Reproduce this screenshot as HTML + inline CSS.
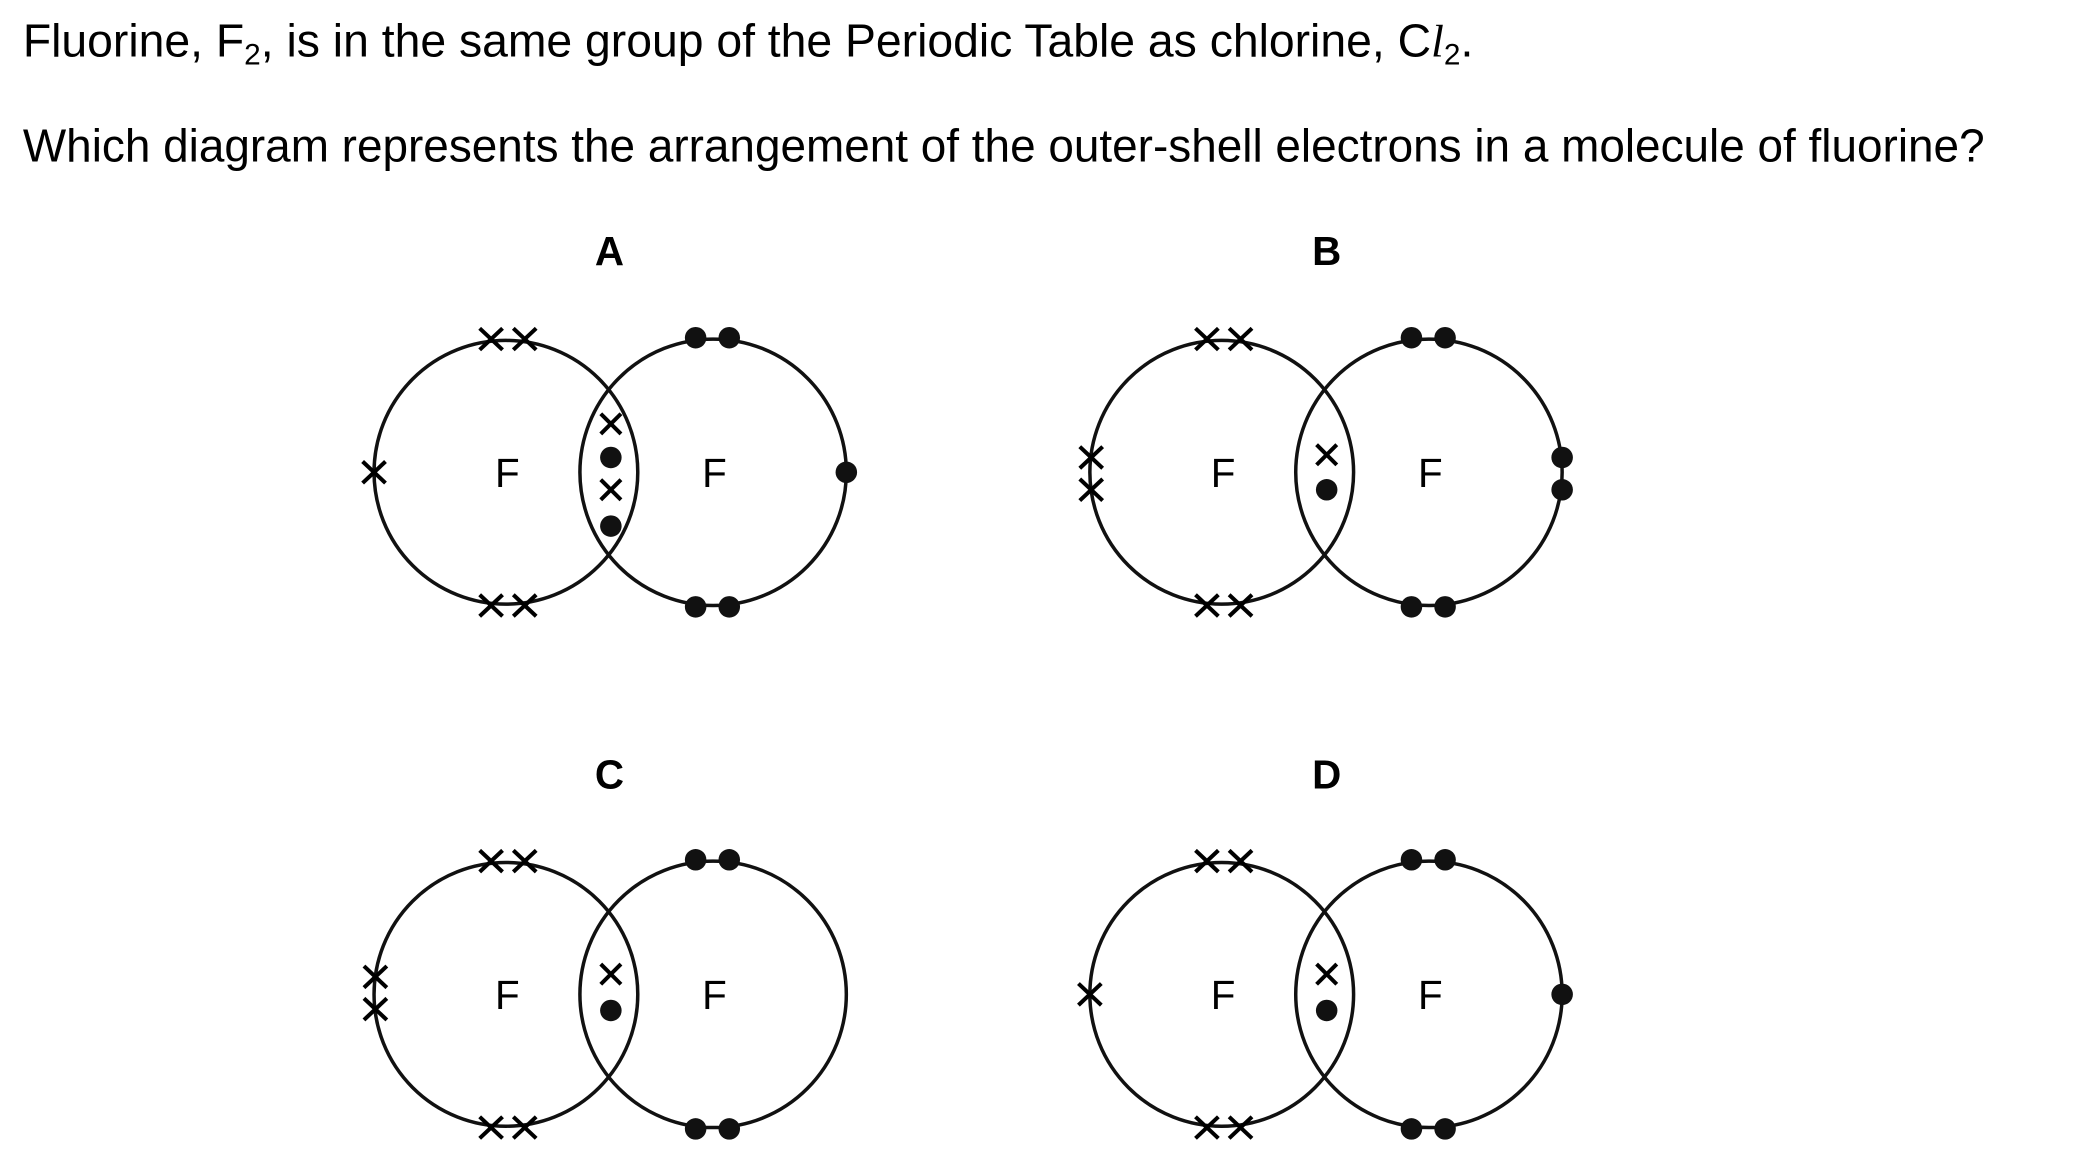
<!DOCTYPE html>
<html><head><meta charset="utf-8"><style>
html,body{margin:0;padding:0;background:#fff;}
svg{display:block;}
</style></head><body>
<svg width="2099" height="1155" viewBox="0 0 1560 858.4" preserveAspectRatio="none" xmlns="http://www.w3.org/2000/svg" font-family="Liberation Sans, Arial, sans-serif">
<defs>
<g id="cx"><line x1="-8.5" y1="-8" x2="8.5" y2="8" stroke="#000" stroke-width="3"/><line x1="-8.5" y1="8" x2="8.5" y2="-8" stroke="#000" stroke-width="3"/></g>
<g id="ix"><line x1="-7.5" y1="-7.5" x2="7.5" y2="7.5" stroke="#000" stroke-width="3"/><line x1="-7.5" y1="7.5" x2="7.5" y2="-7.5" stroke="#000" stroke-width="3"/></g>
<circle id="dt" r="8" fill="#111"/>
<g id="base">
<circle cx="0" cy="0" r="98" fill="none" stroke="#111" stroke-width="2.6"/>
<circle cx="154" cy="0" r="99" fill="none" stroke="#111" stroke-width="2.6"/>
<text x="1" y="11" font-size="30" text-anchor="middle">F</text>
<text x="155" y="11" font-size="30" text-anchor="middle">F</text>
<use href="#cx" x="-11" y="-99"/><use href="#cx" x="14" y="-99"/>
<use href="#cx" x="-11" y="99"/><use href="#cx" x="14" y="99"/>
<use href="#dt" x="141" y="-100"/><use href="#dt" x="166" y="-100"/>
<use href="#dt" x="141" y="100"/><use href="#dt" x="166" y="100"/>
</g>
</defs>
<text x="17" y="42" font-size="34.2" textLength="1078" lengthAdjust="spacingAndGlyphs">Fluorine, F<tspan font-size="22" dy="6">2</tspan><tspan dy="-6">, is in the same group of the Periodic Table as chlorine, C</tspan><tspan font-family="Liberation Serif, serif" font-style="italic">l</tspan><tspan font-size="22" dy="6">2</tspan><tspan dy="-6">.</tspan></text>
<text x="17" y="120" font-size="34.2" textLength="1458" lengthAdjust="spacingAndGlyphs">Which diagram represents the arrangement of the outer-shell electrons in a molecule of fluorine?</text>

<g font-weight="bold" font-size="30" text-anchor="middle">
<text x="453" y="197">A</text><text x="986" y="197">B</text>
<text x="453" y="586">C</text><text x="986" y="586">D</text>
</g>

<!-- A -->
<g transform="translate(376,351)">
<use href="#base"/>
<use href="#cx" x="-98" y="0"/>
<use href="#dt" x="253" y="0"/>
<use href="#ix" x="78" y="-36"/><use href="#dt" x="78" y="-11"/>
<use href="#ix" x="78" y="13"/><use href="#dt" x="78" y="40"/>
</g>
<!-- B -->
<g transform="translate(908,351)">
<use href="#base"/>
<use href="#cx" x="-97" y="-11"/><use href="#cx" x="-97" y="13"/>
<use href="#dt" x="253" y="-11"/><use href="#dt" x="253" y="13"/>
<use href="#ix" x="78" y="-13"/><use href="#dt" x="78" y="13"/>
</g>
<!-- C -->
<g transform="translate(376,739)">
<use href="#base"/>
<use href="#cx" x="-97" y="-13"/><use href="#cx" x="-97" y="11"/>
<use href="#ix" x="78" y="-15"/><use href="#dt" x="78" y="12"/>
</g>
<!-- D -->
<g transform="translate(908,739)">
<use href="#base"/>
<use href="#cx" x="-98" y="0"/>
<use href="#dt" x="253" y="0"/>
<use href="#ix" x="78" y="-15"/><use href="#dt" x="78" y="12"/>
</g>
</svg>
</body></html>
